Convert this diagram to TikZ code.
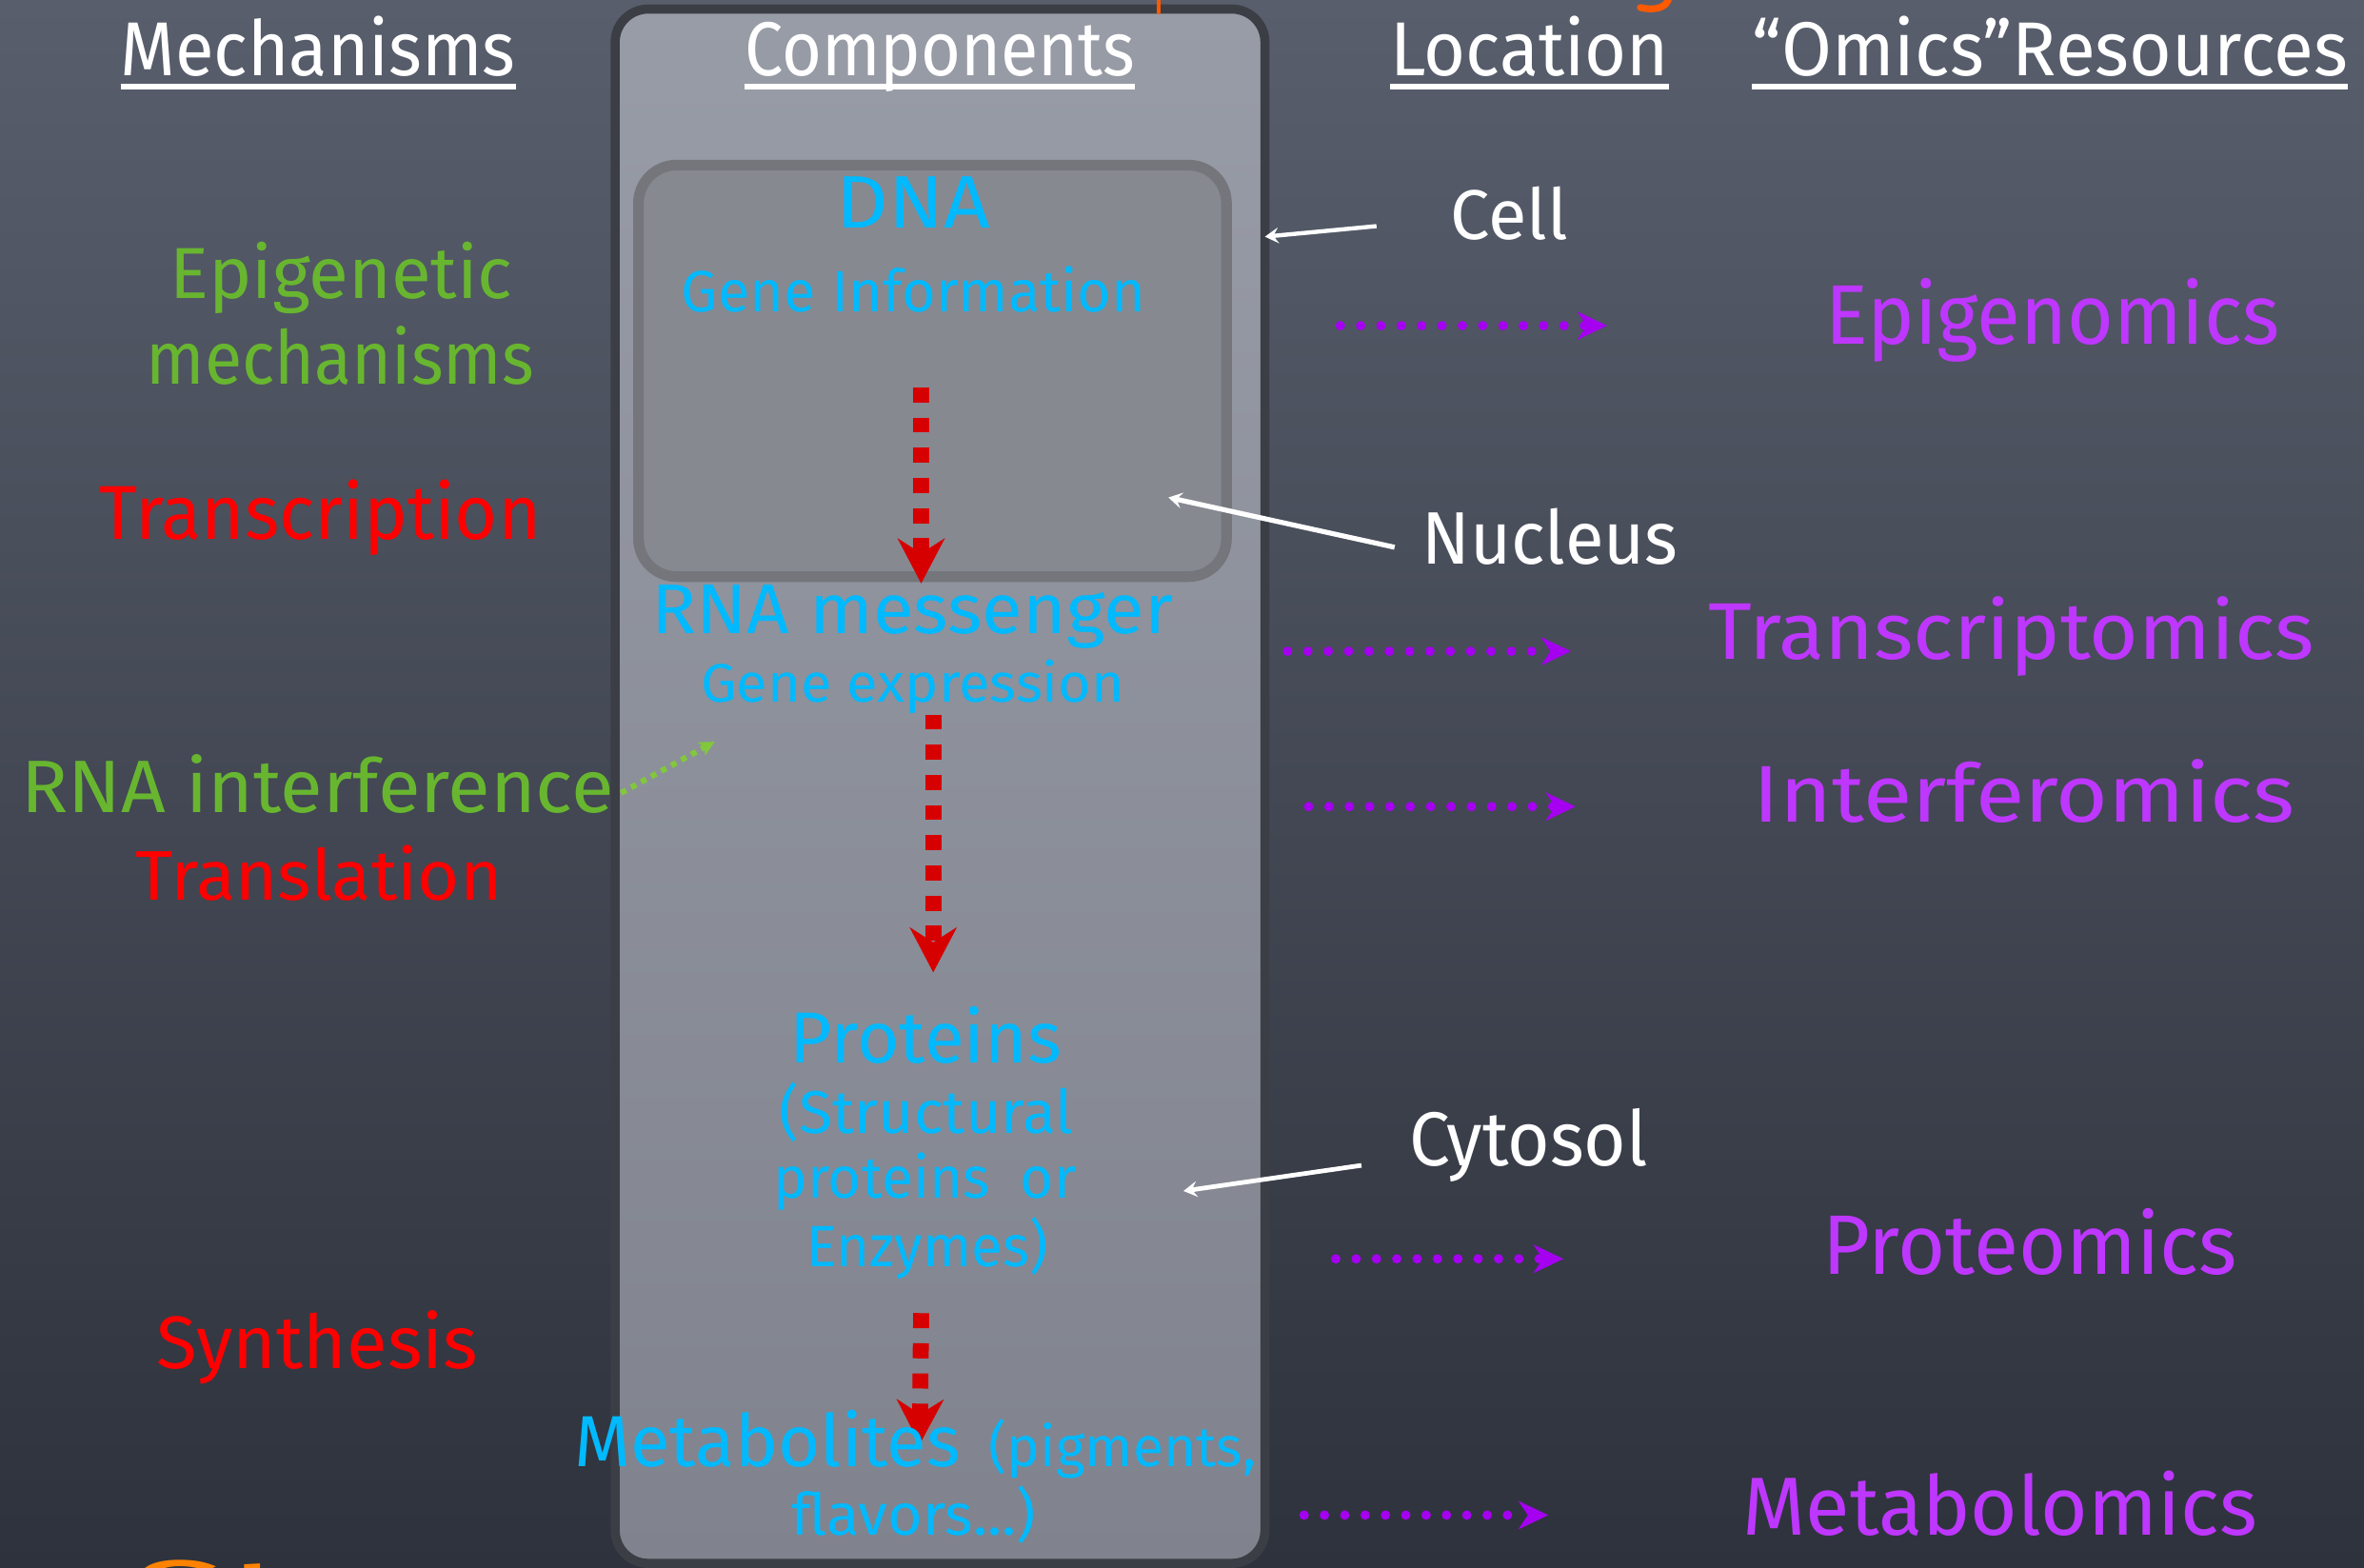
\documentclass[tikz,border=0pt]{standalone}
\usepackage{fontspec}
\setmainfont{Fira Sans}
\usetikzlibrary{arrows.meta}
\newlength\pxu
\setlength\pxu{0.3959pt}
\newcommand\ft[3]{\resizebox{#1\pxu}{#2\pxu}{\vphantom{l}\smash{#3}}}
\definecolor{bgTop}{RGB}{88,94,108}
\definecolor{bgMid}{RGB}{74,80,94}
\definecolor{bgBot}{RGB}{46,50,60}
\definecolor{cellTop}{RGB}{152,156,166}
\definecolor{cellBot}{RGB}{128,131,141}
\definecolor{cellBorder}{RGB}{60,62,70}
\definecolor{nucFill}{RGB}{134,137,144}
\definecolor{nucBorder}{RGB}{116,118,124}
\definecolor{txtGreen}{RGB}{104,182,48}
\definecolor{txtRed}{RGB}{255,0,0}
\definecolor{arrRed}{RGB}{215,0,0}
\definecolor{txtCyan}{RGB}{0,185,255}
\definecolor{txtPurple}{RGB}{190,55,255}
\definecolor{arrPurple}{RGB}{165,0,240}
\definecolor{arrGreen}{RGB}{130,200,60}
\definecolor{orangeA}{RGB}{255,90,0}
\definecolor{orangeB}{RGB}{255,130,0}
\tikzset{
  lbl/.style={inner sep=0pt, outer sep=0pt, anchor=base west},
  hdr/.style={lbl, text=white},
  mechG/.style={lbl, text=txtGreen},
  mechR/.style={lbl, text=txtRed},
  comp/.style={lbl, text=txtCyan},
  loc/.style={lbl, text=white},
  omics/.style={lbl, text=txtPurple},
  redarr/.style={draw=arrRed, line width=4.2pt, dash pattern=on 3.96pt off 3.96pt,
    -{Stealth[length=11.9pt, width=12.5pt, inset=4pt, line width=0pt]}},
  purarr/.style={draw=arrPurple, line width=2.5pt, line cap=round, dash pattern=on 0pt off 5.34pt,
    -{Stealth[length=7.9pt, width=7.5pt, inset=2.5pt, line width=0pt]}},
  grnarr/.style={draw=arrGreen, line width=1.5pt, dash pattern=on 1.5pt off 1.5pt,
    -{Stealth[length=4pt, width=4pt, inset=1pt, line width=0pt]}},
  whtarr/.style={draw=white, line width=1.1pt,
    -{Stealth[length=3.6pt, width=4.2pt, inset=1.4pt, line width=0pt]}},
  uline/.style={draw=white, line width=1.4pt}
}
\begin{document}
\begin{tikzpicture}[x=0.3959pt, y=-0.3959pt]
\clip (0,0) rectangle (1568,1040);
% background
\shade[top color=bgTop, middle color=bgMid, bottom color=bgBot] (0,0) rectangle (1568,1040);
% cell
\path[draw=cellBorder, line width=2.4pt, rounded corners=8.7pt, top color=cellTop, bottom color=cellBot] (408,6) rectangle (839,1037);
% nucleus
\path[draw=nucBorder, line width=2.8pt, rounded corners=10pt, fill=nucFill] (423.5,109.5) rectangle (813.5,382.5);

% orange fragments of cut-off titles
\draw[orangeA, line width=1.2pt, line cap=round] (768.5,-2) -- (768.5,8);
\draw[orangeA, line width=1.8pt, line cap=round] (1107,-2) .. controls (1106,6) and (1096,7) .. (1088,5);
\node[lbl, text=orangeB] (tSt) at (88,1073) {\ft{104}{41}{St}};

% arrows
\coordinate (r1s) at (611,257); \coordinate (r1e) at (611,387);
\coordinate (r2s) at (619,474); \coordinate (r2e) at (619,645);
\coordinate (r3s) at (611,871); \coordinate (r3e) at (610,958);
\draw[redarr] (r1s) -- (r1e);
\draw[redarr] (r2s) -- (r2e);
\draw[redarr] (r3s) -- (r3e);

% headers
\node[hdr] (hMech) at (80,50) {\ft{262}{38}{Mechanisms}};
\node[hdr] (hComp) at (494,50) {\ft{259}{38}{Components}};
\node[hdr] (hLoc) at (922,50) {\ft{185}{38}{Location}};
\node[hdr] (hOmics) at (1162,50) {\ft{395}{38}{“Omics”Resources}};
\foreach \n in {hMech,hComp,hLoc,hOmics}
  \draw[uline] ([yshift=-2.9pt]\n.base west) -- ([yshift=-2.9pt]\n.base east);

% mechanisms
\node[mechG] (tEpi1) at (113,198) {\ft{227}{36}{Epigenetic}};
\node[mechG] (tEpi2) at (97,255) {\ft{257}{37}{mechanisms}};
\node[mechR] (tTranscr) at (66,358) {\ft{293}{38}{Transcription}};
\node[mechG] (tRNAi) at (14,539) {\ft{393}{37}{RNA interference}};
\node[mechR] (tTransl) at (90,597) {\ft{243}{35}{Translation}};
\node[mechR] (tSynth) at (104,908) {\ft{213}{37}{Synthesis}};

% components
\node[comp] (cDNA) at (555,151) {\ft{102}{37}{DNA}};
\node[comp] (cGeneInfo) at (452,207) {\ft{308}{29}{Gene Information}};
\node[comp] (cRNA) at (432,420) {\ft{346}{35}{RNA messenger}};
\node[comp] (cGeneExpr) at (465,466) {\ft{281}{27}{Gene expression}};
\node[comp] (cProt) at (524,705) {\ft{180}{36}{Proteins}};
\node[comp] (cStruct) at (517,752) {\ft{195}{30}{(Structural}};
\node[comp] (cProtOr) at (513,795) {\ft{201}{29}{proteins\ \ or}};
\node[comp] (cEnz) at (535,840) {\ft{160}{29}{Enzymes)}};
\node[comp] (cMetab) at (381,973) {\ft{256}{36}{Metabolites}};
\node[comp] (cPig) at (656,973) {\ft{177}{28}{(pigments,}};
\node[comp] (cFlav) at (525,1018) {\ft{162}{29}{flavors...)}};

% location
\node[loc] (lCell) at (962,159) {\ft{78}{35}{Cell}};
\node[loc] (lNucleus) at (943,374) {\ft{170}{37}{Nucleus}};
\node[loc] (lCytosol) at (935,773) {\ft{158}{38}{Cytosol}};

% omics
\node[omics] (oEpi) at (1211,228) {\ft{301}{42}{Epigenomics}};
\node[omics] (oTranscr) at (1133,437) {\ft{402}{40}{Transcriptomics}};
\node[omics] (oInterf) at (1163,545) {\ft{359}{40}{Interferomics}};
\node[omics] (oProt) at (1209,845) {\ft{275}{42}{Proteomics}};
\node[omics] (oMetab) at (1156,1018) {\ft{341}{41}{Metabolomics}};

% white pointer arrows
\coordinate (wCellS) at (913,150); \coordinate (wCellE) at (839,157);
\coordinate (wNucS) at (925,363); \coordinate (wNucE) at (775,330);
\coordinate (wCytS) at (903,773); \coordinate (wCytE) at (785,790);
\draw[whtarr] (wCellS) -- (wCellE);
\draw[whtarr, line width=1.3pt] (wNucS) -- (wNucE);
\draw[whtarr, line width=1.2pt] (wCytS) -- (wCytE);

% green dotted arrow
\coordinate (gS) at (412,526); \coordinate (gE) at (474,492);
\draw[grnarr] (gS) -- (gE);

% purple dotted arrows
\coordinate (p1s) at (889,216);  \coordinate (p1e) at (1066,216);
\coordinate (p2s) at (854,432);  \coordinate (p2e) at (1042,432);
\coordinate (p3s) at (868,535);  \coordinate (p3e) at (1045,535);
\coordinate (p4s) at (886,835);  \coordinate (p4e) at (1037,835);
\coordinate (p5s) at (865,1005); \coordinate (p5e) at (1027,1005);
\draw[purarr] (p1s) -- (p1e);
\draw[purarr] (p2s) -- (p2e);
\draw[purarr] (p3s) -- (p3e);
\draw[purarr] (p4s) -- (p4e);
\draw[purarr] (p5s) -- (p5e);
\end{tikzpicture}
\end{document}
